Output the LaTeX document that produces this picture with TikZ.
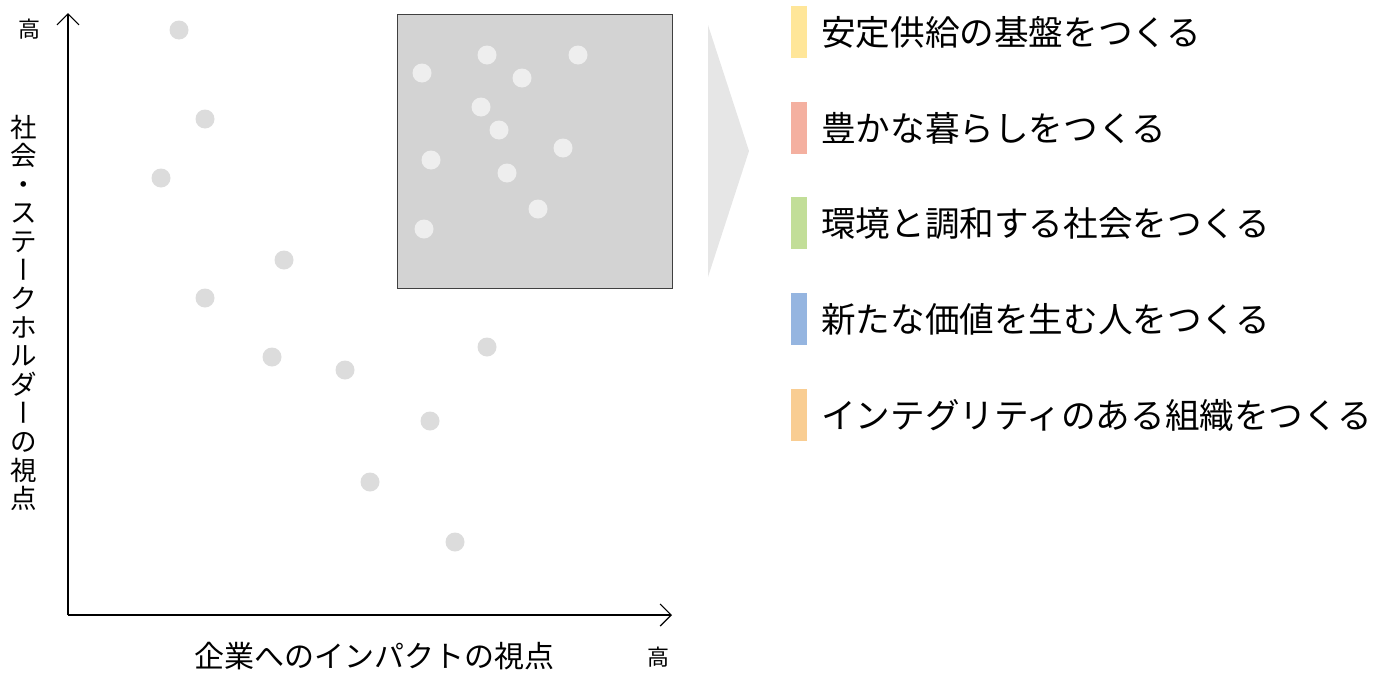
\documentclass[tikz,border=0pt]{standalone}
\usepackage{fontspec}
\setmainfont{Noto Sans CJK JP}
\usetikzlibrary{arrows.meta}
\definecolor{dotout}{HTML}{DCDCDC}
\definecolor{dotin}{HTML}{EEEEEE}
\definecolor{boxfill}{HTML}{D3D3D3}
\definecolor{trifill}{HTML}{E6E6E6}
\definecolor{cyellow}{HTML}{FFE699}
\definecolor{cred}{HTML}{F4B0A0}
\definecolor{cgreen}{HTML}{C2DE98}
\definecolor{cblue}{HTML}{95B5E0}
\definecolor{corange}{HTML}{F9CD92}
\newcommand{\vbar}{\raisebox{0pt}[0.86em][0.14em]{\rotatebox[origin=c]{-90}{\raisebox{0pt}[0.88em][0.12em]{\makebox[1em][c]{ー}}}}}
\begin{document}
\begin{tikzpicture}[x=1pt,y=-1pt,
  axis/.style={line width=1.2pt,-{Straight Barb[length=11pt,width=22pt,line width=1.2pt]}},
  dotA/.style={fill=dotout,draw=none},
  dotB/.style={fill=dotin,draw=none},
  bar/.style={draw=none,minimum width=16pt,minimum height=52pt,inner sep=0pt},
  item/.style={anchor=west,font=\fontsize{34.6}{40}\selectfont,inner sep=0pt},
  lbl/.style={font=\fontsize{24}{28}\selectfont,inner sep=0pt}]
\useasboundingbox (0,0) rectangle (1384,672);
% axes
\coordinate (O) at (68,615);
\coordinate (Ytop) at (68,13);
\coordinate (Xend) at (672,615);
\draw[axis] (O) -- (Ytop);
\draw[axis] (O) -- (Xend);
% highlight box
\node[draw=black!75,line width=1pt,fill=boxfill,minimum width=275pt,minimum height=274pt,inner sep=0pt,anchor=north west] (box) at (397,14) {};
% dots outside
\foreach \x/\y in {179/30,205/119,161/178,284/260,205/298,272/357,345/370,487/347,430/421,370/482,455/542}
  \fill[dotA] (\x,\y) circle (9.5pt);
% dots inside
\foreach \x/\y in {422/73,487/55,578/55,522/78,481/107,499/130,431/160,563/148,507/173,538/209,424/229}
  \fill[dotB] (\x,\y) circle (9.5pt);
% triangle
\fill[trifill] (708,25) -- (749,151) -- (708,277) -- cycle;
% list
\node[bar,fill=cyellow] (b1) at (799,32) {};
\node[bar,fill=cred] (b2) at (799,128) {};
\node[bar,fill=cgreen] (b3) at (799,223) {};
\node[bar,fill=cblue] (b4) at (799,319) {};
\node[bar,fill=corange] (b5) at (799,415) {};
\node[item] (t1) at (821,32) {安定供給の基盤をつくる};
\node[item] (t2) at (821,128) {豊かな暮らしをつくる};
\node[item] (t3) at (821,223) {環境と調和する社会をつくる};
\node[item] (t4) at (821,319) {新たな価値を生む人をつくる};
\node[item] (t5) at (821,415) {インテグリティのある組織をつくる};
% axis labels
\node[lbl,font=\fontsize{22}{26}\selectfont] (hy) at (30,29) {高};
\node[lbl,font=\fontsize{22}{26}\selectfont] (hx) at (658,657) {高};
\node[font=\fontsize{30}{34}\selectfont,inner sep=0pt] (xl) at (374,656) {企業へのインパクトの視点};
\node[lbl,align=center,font=\fontsize{26.5}{28.6}\selectfont] (yl) at (24,313) {社\\会\\・\\ス\\テ\\\vbar\\ク\\ホ\\ル\\ダ\\\vbar\\の\\視\\点};
\end{tikzpicture}
\end{document}
